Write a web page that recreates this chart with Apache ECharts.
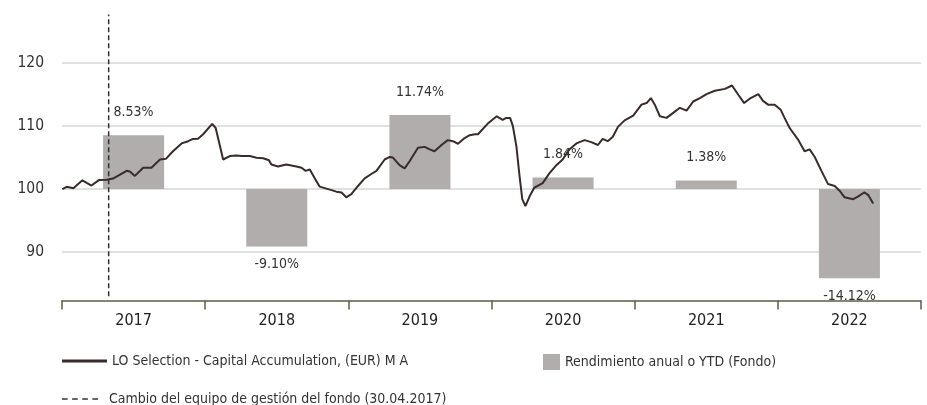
<!DOCTYPE html>
<html>
<head>
<meta charset="utf-8">
<script src="https://cdn.jsdelivr.net/npm/echarts@6/dist/echarts.min.js"></script>
<style>
  html, body { margin: 0; padding: 0; background: #fff; }
  #chart { width: 927px; height: 405px; }
</style>
</head>
<body>
<div id="chart"></div>
<script>
var years = ['2017', '2018', '2019', '2020', '2021', '2022'];
var yearReturns = [8.53, -9.10, 11.74, 1.84, 1.38, -14.12];

var navDates = [
  '2017-01-02', '2017-01-13', '2017-01-30', '2017-02-22', '2017-03-05', '2017-03-17', '2017-04-06', '2017-04-25',
  '2017-05-11', '2017-05-28', '2017-06-15', '2017-06-23', '2017-07-06', '2017-07-27', '2017-08-17', '2017-09-08',
  '2017-09-23', '2017-10-11', '2017-11-02', '2017-11-19', '2017-12-01', '2017-12-14', '2017-12-27', '2018-01-19',
  '2018-01-28', '2018-02-16', '2018-03-05', '2018-03-22', '2018-04-04', '2018-04-08', '2018-04-25', '2018-05-12',
  '2018-05-29', '2018-06-13', '2018-06-19', '2018-07-06', '2018-07-27', '2018-08-22', '2018-09-04', '2018-09-14',
  '2018-09-25', '2018-10-08', '2018-10-20', '2018-11-11', '2018-12-02', '2018-12-15', '2018-12-27', '2019-01-09',
  '2019-01-26', '2019-02-12', '2019-03-01', '2019-03-14', '2019-04-04', '2019-04-17', '2019-04-25', '2019-05-12',
  '2019-05-25', '2019-06-07', '2019-06-28', '2019-07-15', '2019-07-28', '2019-08-09', '2019-08-27', '2019-09-12',
  '2019-09-25', '2019-10-08', '2019-10-25', '2019-11-07', '2019-11-20', '2019-11-28', '2019-12-23', '2020-01-15',
  '2020-01-30', '2020-02-08', '2020-02-18', '2020-02-25', '2020-03-05', '2020-03-13', '2020-03-20', '2020-03-28',
  '2020-04-08', '2020-04-20', '2020-05-11', '2020-05-28', '2020-06-15', '2020-07-01', '2020-07-18', '2020-08-05',
  '2020-08-26', '2020-09-12', '2020-09-29', '2020-10-11', '2020-10-24', '2020-11-06', '2020-11-19', '2020-12-06',
  '2020-12-28', '2021-01-18', '2021-01-31', '2021-02-11', '2021-02-21', '2021-03-06', '2021-03-23', '2021-04-09',
  '2021-04-26', '2021-05-13', '2021-05-30', '2021-06-16', '2021-07-03', '2021-07-24', '2021-08-19', '2021-09-06',
  '2021-09-22', '2021-10-07', '2021-10-21', '2021-11-12', '2021-11-24', '2021-12-07', '2021-12-24', '2022-01-08',
  '2022-01-18', '2022-01-31', '2022-02-21', '2022-03-10', '2022-03-23', '2022-04-05', '2022-04-22', '2022-05-09',
  '2022-05-26', '2022-06-08', '2022-06-20', '2022-07-12', '2022-07-24', '2022-08-09', '2022-08-19', '2022-09-01'
];
var navValues = [
  100.0, 100.36, 100.15, 101.4, 101.0, 100.57, 101.46, 101.5,
  101.67, 102.25, 102.9, 102.8, 102.1, 103.4, 103.4, 104.7,
  104.8, 106.0, 107.25, 107.6, 107.97, 108.0, 108.7, 110.34,
  109.7, 104.7, 105.25, 105.35, 105.25, 105.5, 105.25, 104.98,
  104.9, 104.57, 103.9, 103.6, 103.9, 103.6, 103.4, 102.9,
  103.1, 101.7, 100.4, 100.0, 99.6, 99.47, 98.7, 99.2,
  100.5, 101.7, 102.4, 102.9, 104.7, 105.1, 105.0, 103.8,
  103.3, 104.46, 106.56, 106.7, 106.3, 106.0, 107.0, 107.77,
  107.6, 107.2, 108.1, 108.56, 108.7, 108.7, 110.4, 111.55,
  111.0, 111.3, 111.3, 110.0, 106.8, 102.1, 98.4, 97.3,
  98.9, 100.25, 100.95, 102.5, 103.8, 104.7, 106.3, 107.25,
  107.77, 107.45, 107.0, 107.97, 107.6, 108.3, 109.87, 110.9,
  111.66, 113.4, 113.65, 114.44, 113.4, 111.55, 111.3, 112.1,
  112.9, 112.45, 113.9, 114.44, 115.07, 115.6, 115.9, 116.44,
  114.97, 113.65, 114.34, 115.07, 114.0, 113.4, 113.4, 112.6,
  111.3, 109.7, 107.9, 106.0, 106.3, 105.1, 102.9, 100.8,
  100.5, 99.7, 98.7, 98.4, 98.8, 99.47, 99.1, 97.7
];

var changeDate = '2017-04-30';
var changeRange = [83.0, 127.7];

var lineName = 'LO Selection - Capital Accumulation, (EUR) M A';
var barName = 'Rendimiento anual o YTD (Fondo)';
var changeName = 'Cambio del equipo de gestión del fondo (30.04.2017)';

var fontNarrow = "'Liberation Sans Narrow', 'DejaVu Sans Condensed', sans-serif";

var navData = [];
for (var i = 0; i < navDates.length; i++) {
  navData.push([navDates[i], navValues[i]]);
}

var barData = yearReturns.map(function (v) {
  return {
    value: v,
    label: { position: v >= 0 ? 'top' : 'bottom', distance: v >= 0 ? 16 : 11 }
  };
});

var myChart = echarts.init(document.getElementById('chart'));

var option = {
  animation: false,
  textStyle: { fontFamily: fontNarrow },
  grid: { left: 62, right: 6, top: -2, height: 317.2, containLabel: false },
  legend: [
    {
      data: [{ name: lineName, icon: 'rect' }],
      left: 57, top: 349,
      itemWidth: 45, itemHeight: 3, itemGap: 8,
      textStyle: { fontSize: 14, color: '#333', fontFamily: fontNarrow }
    },
    {
      data: [{ name: barName, icon: 'rect' }],
      left: 538, top: 349,
      itemWidth: 17, itemHeight: 16, itemGap: 8,
      textStyle: { fontSize: 14, color: '#333', fontFamily: fontNarrow }
    },
    {
      data: [{
        name: changeName,
        icon: 'path://M0,0h5v1.5h-5z M9,0h5v1.5h-5z M18,0h5v1.5h-5z M27,0h5v1.5h-5z'
      }],
      left: 57, top: 387,
      itemWidth: 36, itemHeight: 1.7, itemGap: 8,
      textStyle: { fontSize: 14, color: '#333', fontFamily: fontNarrow, padding: [0, 0, 0, 6] }
    }
  ],
  xAxis: [
    {
      type: 'category',
      data: years,
      boundaryGap: true,
      offset: -14.7,
      axisLine: { onZero: false, lineStyle: { color: '#5e5e48', width: 1.5 } },
      axisTick: { show: true, length: 9, lineStyle: { color: '#5e5e48', width: 1.5 } },
      axisLabel: { fontSize: 16, color: '#222', margin: 12, fontFamily: fontNarrow },
      splitLine: { show: false }
    },
    {
      type: 'time',
      min: '2017-01-01',
      max: '2023-01-01',
      show: false
    }
  ],
  yAxis: [
    {
      type: 'value',
      min: 80, max: 130, interval: 10,
      axisLine: { show: false },
      axisTick: { show: false },
      axisLabel: {
        fontSize: 15.5, color: '#333', margin: 18, fontFamily: fontNarrow,
        formatter: function (v) { return (v > 80 && v < 130) ? String(v) : ''; }
      },
      splitLine: {
        show: true, showMinLine: false, showMaxLine: false,
        lineStyle: { color: '#d6d6d6', width: 1.5 }
      }
    },
    {
      type: 'value',
      min: -20, max: 30,
      show: false,
      splitLine: { show: false }
    }
  ],
  series: [
    {
      name: barName,
      type: 'bar',
      xAxisIndex: 0,
      yAxisIndex: 1,
      barWidth: 61,
      itemStyle: { color: '#b0adac' },
      label: {
        show: true,
        fontSize: 14,
        color: '#333',
        fontFamily: fontNarrow,
        formatter: function (p) { return p.value.toFixed(2) + '%'; }
      },
      data: barData,
      z: 1
    },
    {
      name: lineName,
      type: 'line',
      xAxisIndex: 1,
      yAxisIndex: 0,
      symbol: 'none',
      lineStyle: { color: '#3a2b2b', width: 2 },
      itemStyle: { color: '#3a2b2b' },
      data: navData,
      z: 3
    },
    {
      name: changeName,
      type: 'line',
      xAxisIndex: 1,
      yAxisIndex: 0,
      symbol: 'none',
      lineStyle: { color: '#333', width: 1.5, type: [5, 3] },
      itemStyle: { color: '#333' },
      data: [[changeDate, changeRange[0]], [changeDate, changeRange[1]]],
      z: 4
    }
  ]
};

myChart.setOption(option);

window.onresize = function () {
  myChart.resize();
};
</script>
</body>
</html>
